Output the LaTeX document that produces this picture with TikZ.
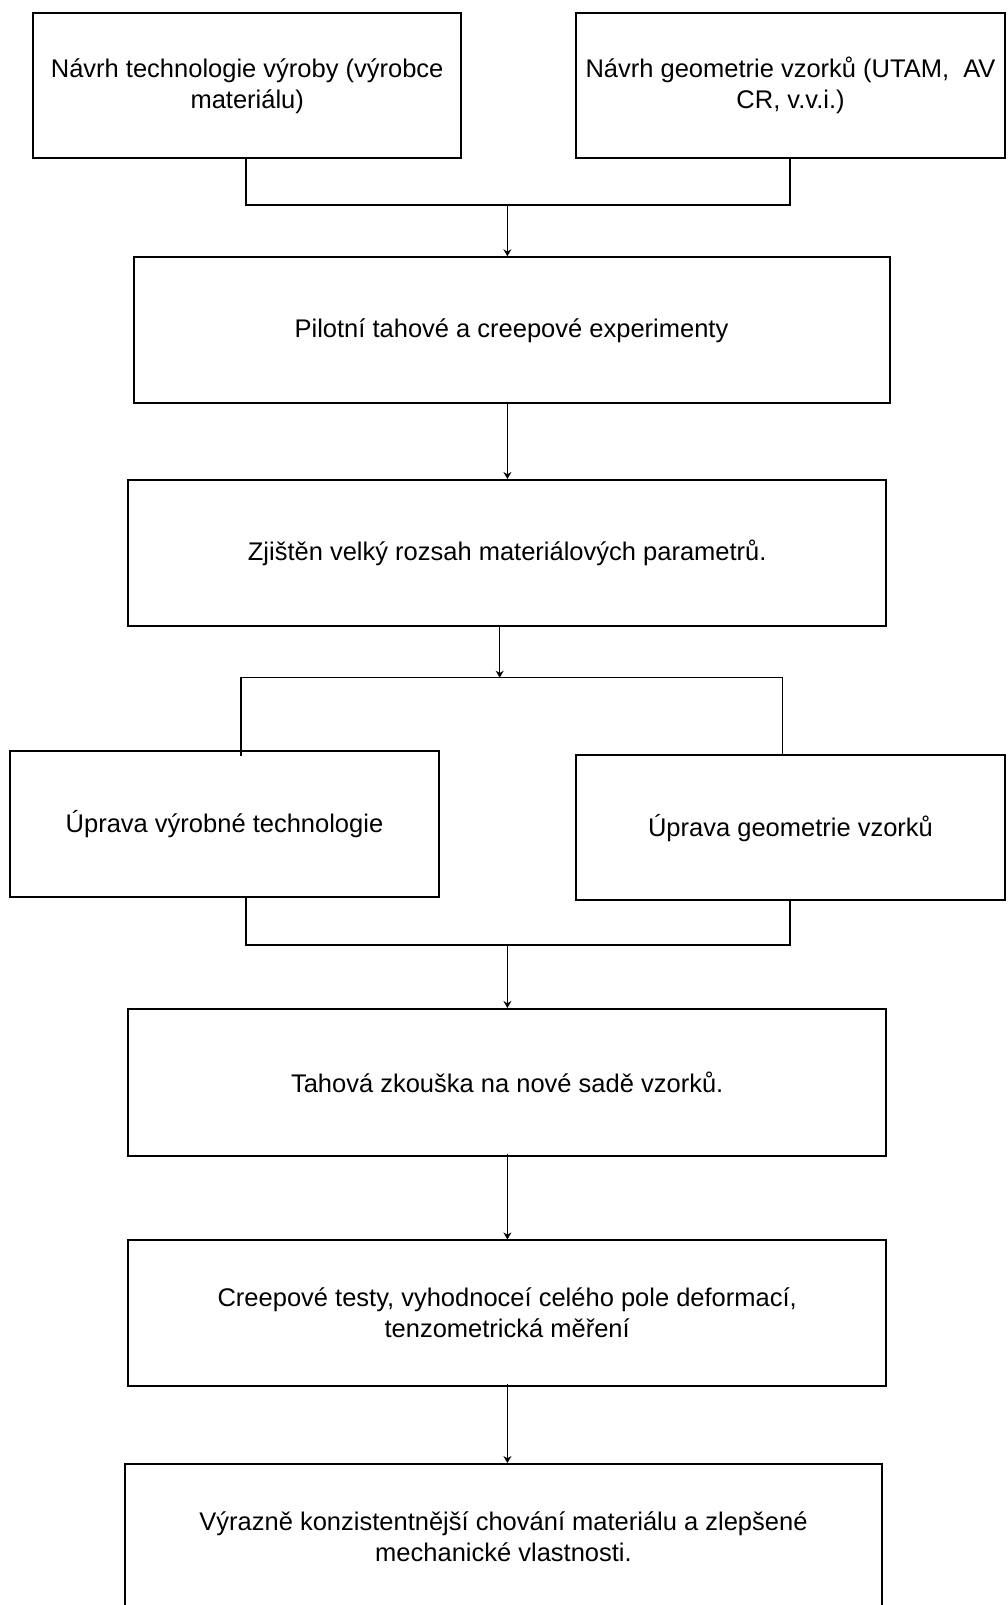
\documentclass[tikz,border=0pt]{standalone}
\usepackage{fontspec}
\setmainfont{Liberation Sans}
\usetikzlibrary{arrows.meta}
\begin{document}
\begin{tikzpicture}[x=1pt,y=-1pt,
  box/.style={draw=black, line width=2pt, rectangle, inner sep=0pt, align=center,
    font=\fontsize{25.5}{31}\selectfont},
  conn/.style={draw=black, line width=1.5pt},
  arr/.style={conn, -{Stealth[length=7pt,width=8pt]}}]
\useasboundingbox[fill=white] (0,0) rectangle (1007,1605);
\node[box, minimum width=427.6pt, minimum height=145pt] (b1) at (247.2,85.8)
  {Návrh technologie výroby (výrobce\\materiálu)};
\node[box, minimum width=429pt, minimum height=145pt] (b2) at (790.5,85.8)
  {Návrh geometrie vzorků (UTAM,~~AV\\CR, v.v.i.)};
\node[box, minimum width=756pt, minimum height=146pt] (b3) at (511.5,330.3)
  {Pilotní tahové a creepové experimenty};
\node[box, minimum width=757.5pt, minimum height=146pt] (b4) at (507.2,553)
  {Zjištěn velký rozsah materiálových parametrů.};
\node[box, minimum width=429.7pt, minimum height=146pt] (b5) at (224.5,823.7)
  {Úprava výrobné technologie};
\node[box, minimum width=429pt, minimum height=145pt] (b6) at (790.5,827.7)
  {Úprava geometrie vzorků};
\node[box, minimum width=757.5pt, minimum height=146.8pt] (b7) at (507.2,1082.4)
  {Tahová zkouška na nové sadě vzorků.};
\node[box, minimum width=757.5pt, minimum height=145.2pt] (b8) at (507.2,1313)
  {Creepové testy, vyhodnoceí celého pole deformací,\\tenzometrická měření};
\node[box, minimum width=756.6pt, minimum height=146pt] (b9) at (503.5,1537)
  {Výrazně konzistentnější chování materiálu a zlepšené\\mechanické vlastnosti.};
% junction coordinates
\coordinate (j1l) at (246,205);
\coordinate (j1r) at (790,205);
\coordinate (j1) at (507.4,205);
\coordinate (x34) at (507.4,0);
\coordinate (x4) at (499.7,0);
\coordinate (j2) at (499.7,677.7);
\coordinate (j2l) at (240.8,677.7);
\coordinate (j2r) at (782.3,677.7);
\coordinate (j2le) at (240.8,756);
\coordinate (j3l) at (246,945);
\coordinate (j3r) at (790,945);
\coordinate (j3) at (507.4,945);
% connectors
\draw[conn] (j1l |- b1.south) -- (j1l) -- (j1r) -- (j1r |- b2.south);
\draw[arr] (j1) -- (j1 |- b3.north);
\draw[arr] (x34 |- b3.south) -- (x34 |- b4.north);
\draw[arr] (x4 |- b4.south) -- (j2);
\draw[conn] (j2le) -- (j2l) -- (j2r) -- (j2r |- b6.north);
\draw[conn] (j3l |- b5.south) -- (j3l) -- (j3r) -- (j3r |- b6.south);
\draw[arr] (j3) -- (j3 |- b7.north);
\draw[arr] ([yshift=2.5pt]x34 |- b7.south) -- (x34 |- b8.north);
\draw[arr] ([yshift=3pt]x34 |- b8.south) -- (x34 |- b9.north);
\end{tikzpicture}
\end{document}
